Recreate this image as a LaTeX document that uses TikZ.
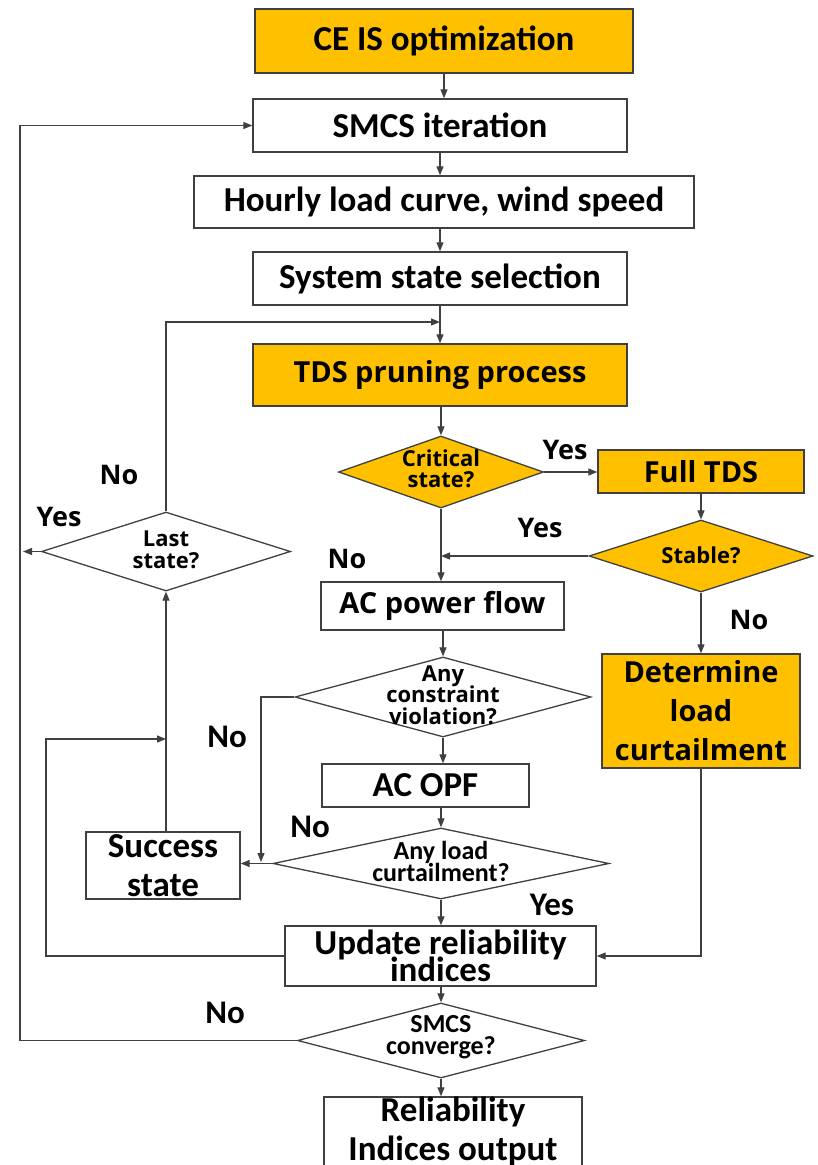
\documentclass[tikz,border=0pt]{standalone}
\usepackage{fontspec}
\setmainfont{Carlito}
\newfontfamily\wfont{Open Sans}
\usetikzlibrary{shapes.geometric,arrows.meta,calc}
\definecolor{orng}{HTML}{FFC000}
\definecolor{lgray}{HTML}{404040}
\newcommand\tightls{\lineskiplimit=-100pt\relax}
\begin{document}
\begin{tikzpicture}[x=1pt,y=-1pt,
 box/.style={draw=lgray,line width=1.4pt,inner sep=0pt,align=center,text=black},
 cbox/.style={box,font=\bfseries\fontsize{35}{39}\selectfont},
 wbox/.style={box,fill=orng,font=\wfont\bfseries\fontsize{29}{39}\selectfont},
 dia/.style={diamond,draw=lgray,line width=1.3pt,inner sep=0pt},
 wdt/.style={align=center,inner sep=0pt,font=\wfont\bfseries\fontsize{22}{21.5}\selectfont\tightls},
 cdt/.style={align=center,inner sep=0pt,font=\bfseries\fontsize{26}{22}\selectfont\tightls},
 wlab/.style={inner sep=0pt,font=\wfont\bfseries\fontsize{27}{27}\selectfont},
 clab/.style={inner sep=0pt,font=\bfseries\fontsize{33}{33}\selectfont},
 arr/.style={draw=lgray,line width=1.2pt,-{Triangle[length=9pt,width=7pt]}}]
\useasboundingbox (0,0) rectangle (817,1165);

% boxes
\node[cbox,fill=orng,minimum width=378,minimum height=64] (ce) at (444,41) {CE IS optimization};
\node[cbox,minimum width=374,minimum height=53] (smcs) at (440,125.5) {SMCS iteration};
\node[cbox,minimum width=500,minimum height=52] (hourly) at (444,202) {Hourly load curve, wind speed};
\node[cbox,minimum width=374,minimum height=53] (sys) at (440,278.5) {System state selection};
\node[wbox,minimum width=374,minimum height=62] (tds) at (440,375) {TDS pruning process};
\node[wbox,minimum width=206,minimum height=43] (full) at (701,471.5) {Full TDS};
\node[box,font=\wfont\bfseries\fontsize{29}{39}\selectfont,minimum width=243,minimum height=48] (acpf) at (442.5,606) {AC power flow};
\node[wbox,minimum width=198,minimum height=114] (det) at (701,711) {Determine\\load\\curtailment};
\node[cbox,minimum width=207,minimum height=43] (acopf) at (425.5,785.5) {AC OPF};
\node[cbox,minimum width=154,minimum height=67] (succ) at (163,865.5) {Success\\state};
\node[box,font=\bfseries\fontsize{35}{27}\selectfont\tightls,minimum width=311,minimum height=60] (upd) at (440.5,956) {Update reliability\\indices};
\node[cbox,minimum width=258,minimum height=65] (rel) at (453,1131.5) {Reliability\\Indices output};

% diamonds
\node[dia,fill=orng,minimum width=205,minimum height=72] (crit) at (441,472) {};
\node[wdt] (critt) at (441,469) {Critical\\state?};
\node[dia,fill=orng,minimum width=224,minimum height=72] (stab) at (701,556) {};
\node[wdt] (stabt) at (701,555) {Stable?};
\node[dia,fill=white,minimum width=296,minimum height=80] (cons) at (443,697) {};
\node[wdt] (const) at (443,695) {Any\\constraint\\violation?};
\node[dia,fill=white,minimum width=336,minimum height=71] (load) at (441,863.5) {};
\node[cdt] (loadt) at (441,861.5) {Any load\\curtailment?};
\node[dia,fill=white,minimum width=287,minimum height=75] (conv) at (441,1040.5) {};
\node[cdt] (convt) at (441,1037.5) {SMCS\\converge?};
\node[dia,fill=white,minimum width=249,minimum height=79] (last) at (166,551.5) {};
\node[wdt] (lastt) at (166,550) {Last\\state?};

% labels
\node[wlab] (y1) at (565,450) {Yes};
\node[wlab] (y2) at (540,528) {Yes};
\node[wlab] (n1) at (347,559) {No};
\node[wlab] (n2) at (749,620) {No};
\node[wlab] (n3) at (119,475) {No};
\node[wlab] (y3) at (59,517) {Yes};
\node[clab] (n4) at (227,737) {No};
\node[clab] (n5) at (310,827) {No};
\node[clab] (y4) at (552,905) {Yes};
\node[clab] (n6) at (225,1013) {No};

% coordinates
\coordinate (j1) at (440,322);
\coordinate (j2) at (261,862);
\coordinate (j3) at (46,739);
\coordinate (j4) at (166,739);
\coordinate (j5) at (20,1040.5);
\coordinate (j6) at (23,551.5);

% connectors
\draw[arr] (ce.south) -- (ce.south |- smcs.north);
\draw[arr] (smcs.south) -- (smcs.south |- hourly.north);
\draw[arr] (sys.north |- hourly.south) -- (sys.north);
\draw[arr] (sys.south) -- (tds.north);
\draw[arr] (last.north) |- (j1);
\draw[arr] (tds.south) -- (tds.south -| crit.north) -- (crit.north);
\draw[arr] (crit.east) -- (crit.east -| full.west);
\draw[arr] (full.south) -- (stab.north);
\draw[arr] (stab.west) -- (stab.west -| crit.south);
\draw[arr] (crit.south) -- (crit.south |- acpf.north);
\draw[arr] (stab.south) -- (det.north);
\draw[arr] (cons.north |- acpf.south) -- (cons.north);
\draw[arr] (cons.west) -| (j2);
\draw[arr] (load.west) -- (load.west -| succ.east);
\draw[arr] (last.south |- succ.north) -- (last.south);
\draw[arr] (cons.south) -- (cons.south |- acopf.north);
\draw[arr] (load.north |- acopf.south) -- (load.north);
\draw[arr] (load.south) -- (load.south |- upd.north);
\draw[arr] (det.south) |- (upd.east);
\draw[arr] (upd.west) -| (j3) -- (j4);
\draw[arr] (conv.north |- upd.south) -- (conv.north);
\draw[arr] (conv.west) -- (j5) |- (smcs.west);
\draw[arr] (conv.south) -- (conv.south |- rel.north);
\draw[arr] (last.west) -- (j6);
\end{tikzpicture}
\end{document}
